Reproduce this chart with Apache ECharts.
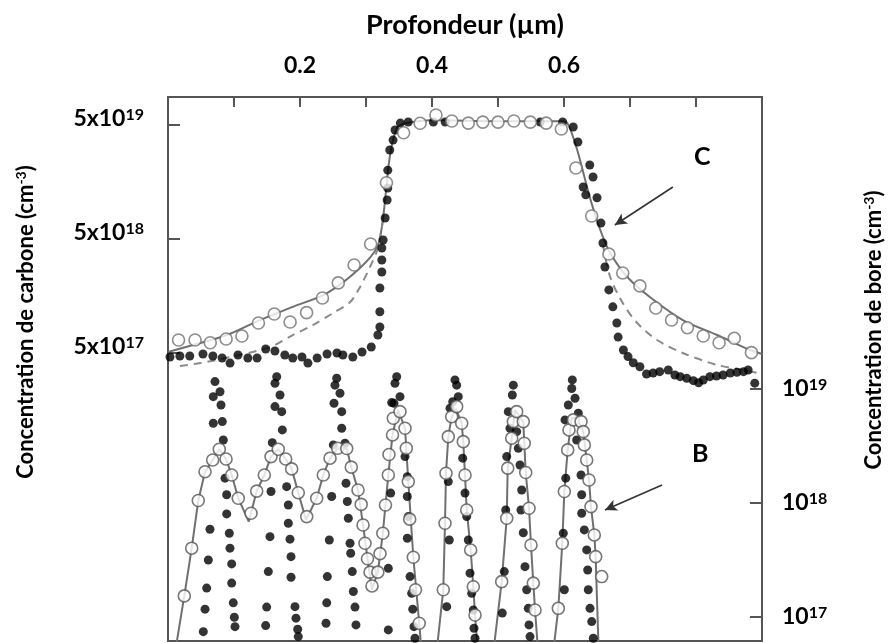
<!DOCTYPE html>
<html>
<head>
<meta charset="utf-8">
<script src="https://cdn.jsdelivr.net/npm/echarts@6/dist/echarts.min.js"></script>
<style>
html,body{margin:0;padding:0;background:#fff;}
#chart{width:893px;height:643px;}
</style>
</head>
<body>
<div id="chart"></div>
<script>
// ---------- DATA (depth in µm, concentration in cm^-3) ----------
const carbonOpen = [
  [0.016,6.5e17],[0.041,6.5e17],[0.064,6.15e17],[0.088,6.64e17],[0.112,7.05e17],[0.137,9.16e17],
  [0.161,1.10e18],[0.185,9.35e17],[0.210,1.13e18],[0.234,1.52e18],[0.258,2.06e18],[0.282,2.96e18],
  [0.307,4.52e18],[0.331,1.56e19],[0.357,4.28e19],[0.382,5.18e19],[0.406,6.12e19],[0.430,5.42e19],
  [0.455,5.2e19],[0.477,5.3e19],[0.500,5.3e19],[0.524,5.42e19],[0.549,5.3e19],[0.573,5.2e19],
  [0.596,4.61e19],[0.618,2.10e19],[0.642,7.96e18],[0.668,3.69e18],[0.689,2.52e18],[0.715,1.94e18],
  [0.739,1.24e18],[0.763,9.73e17],[0.787,8.34e17],[0.811,7.05e17],[0.835,6.15e17],[0.858,6.73e17],
  [0.884,5.04e17]
];
const carbonFit = [
  [0,5.11e17],[0.038,5.88e17],[0.089,7.19e17],[0.139,9.73e17],[0.189,1.27e18],[0.241,1.68e18],
  [0.291,2.79e18],[0.317,4.26e18],[0.326,7.8e18],[0.336,2.62e19],[0.347,4.71e19],[0.362,5.2e19],
  [0.397,5.5e19],[0.503,5.4e19],[0.594,5.4e19],[0.605,5.2e19],[0.620,3.02e19],[0.639,1.17e19],
  [0.655,6.0e18],[0.670,3.77e18],[0.696,2.32e18],[0.730,1.55e18],[0.780,9.73e17],[0.832,7.19e17],
  [0.882,5.31e17],[0.9,4.9e17]
];
const carbonDashedLeft = [
  [0.018,3.85e17],[0.049,4.08e17],[0.102,4.71e17],[0.155,5.65e17],[0.189,7.19e17],[0.220,8.81e17],
  [0.250,1.12e18],[0.276,1.40e18],[0.291,1.90e18],[0.306,2.84e18],[0.317,4.01e18],[0.326,7.35e18]
];
const carbonDashedRight = [
  [0.659,4.43e18],[0.670,2.32e18],[0.689,1.37e18],[0.711,9.16e17],[0.741,6.50e17],[0.780,5.0e17],
  [0.832,3.93e17],[0.871,3.55e17],[0.894,3.34e17]
];
const carbonDots = [
  [0.003,4.61e17],[0.018,4.71e17],[0.033,4.71e17],[0.053,4.90e17],[0.068,4.71e17],[0.082,4.52e17],
  [0.094,4.08e17],[0.106,4.80e17],[0.121,4.52e17],[0.135,4.52e17],[0.148,5.42e17],[0.162,5.21e17],
  [0.177,4.80e17],[0.189,4.52e17],[0.203,4.61e17],[0.212,4.08e17],[0.226,4.52e17],[0.241,4.90e17],
  [0.256,5.0e17],[0.265,4.80e17],[0.280,4.61e17],[0.294,5.11e17],[0.308,5.65e17],[0.318,7.19e17],
  [0.321,8.45e17],[0.321,1.15e18],[0.321,1.86e18],[0.324,2.57e18],[0.324,3.27e18],[0.324,4.17e18],
  [0.326,4.90e18],[0.329,7.64e18],[0.332,1.10e19],[0.333,1.40e19],[0.333,2.01e19],[0.336,3.02e19],
  [0.341,3.69e19],[0.344,4.52e19],[0.352,5.2e19],[0.364,5.31e19],[0.402,5.31e19],[0.420,5.31e19],
  [0.564,5.31e19],[0.598,5.31e19],[0.614,4.80e19],[0.621,3.55e19],[0.639,2.23e19],[0.644,1.75e19],
  [0.629,1.43e19],[0.633,1.22e19],[0.650,1.15e19],[0.656,6.90e18],[0.659,4.61e18],[0.662,2.84e18],
  [0.668,1.79e18],[0.674,1.27e18],[0.680,9.16e17],[0.682,6.90e17],[0.690,5.31e17],[0.697,4.65e17],
  [0.705,4.11e17],[0.715,3.79e17],[0.725,3.27e17],[0.735,3.34e17],[0.745,3.43e17],[0.758,3.55e17],
  [0.768,3.21e17],[0.776,3.10e17],[0.786,3.0e17],[0.796,2.86e17],[0.804,2.74e17],[0.811,2.90e17],
  [0.821,3.10e17],[0.831,3.14e17],[0.841,3.21e17],[0.852,3.34e17],[0.862,3.39e17],[0.872,3.43e17],
  [0.879,3.55e17],[0.889,2.72e17]
];
const boronOpen = [
  [0.0247,1.53e17],[0.0359,4.01e17],[0.0459,1.05e18],[0.0561,1.88e18],[0.0677,2.38e18],[0.0777,2.96e18],
  [0.0879,2.43e18],[0.0965,1.76e18],[0.1065,1.10e18],[0.1258,8.12e17],[0.1344,1.27e18],[0.1459,1.76e18],
  [0.1561,2.55e18],[0.1671,2.96e18],[0.1783,2.43e18],[0.1874,1.99e18],[0.1974,1.23e18],[0.2102,7.59e17],
  [0.2253,1.10e18],[0.2353,1.76e18],[0.2455,2.47e18],[0.2571,3.02e18],[0.2708,3.0e18],[0.2777,2.06e18],
  [0.2879,1.30e18],[0.2927,9.71e17],[0.2955,6.41e17],[0.2985,4.43e17],[0.3023,3.24e17],[0.3061,2.47e17],
  [0.3091,1.87e17],[0.3179,2.47e17],[0.3212,3.59e17],[0.3255,5.42e17],[0.3295,9.60e17],[0.3338,1.76e18],
  [0.3348,2.66e18],[0.3402,3.95e18],[0.3414,5.53e18],[0.3515,6.32e18],[0.3591,4.52e18],[0.3611,3.02e18],
  [0.3641,1.54e18],[0.3662,7.21e17],[0.3717,3.34e17],[0.3750,1.73e17],[0.3806,8.81e16],
  [0.4171,1.73e17],[0.4197,6.64e17],[0.4212,1.82e18],[0.4247,3.82e18],[0.4298,5.71e18],[0.4374,7.0e18],
  [0.4450,5.0e18],[0.4474,3.45e18],[0.4500,1.76e18],[0.4526,8.68e17],[0.4586,3.87e17],[0.4626,1.84e17],
  [0.4652,1.04e17],
  [0.5056,2.04e17],[0.5132,7.34e17],[0.5147,2.02e18],[0.5208,3.70e18],[0.5232,5.17e18],[0.5283,6.32e18],
  [0.5383,5.17e18],[0.5398,3.34e18],[0.5420,1.85e18],[0.5470,8.99e17],[0.5500,4.28e17],[0.5535,1.98e17],
  [0.5561,1.15e17],
  [0.5914,1.19e17],[0.5974,4.43e17],[0.6005,1.26e18],[0.6056,2.92e18],[0.6076,4.37e18],[0.6141,5.35e18],
  [0.6258,5.17e18],[0.6292,4.22e18],[0.6308,3.23e18],[0.6344,2.38e18],[0.6379,1.59e18],[0.6409,9.28e17],
  [0.6459,5.24e17],[0.6480,3.38e17],[0.6571,2.26e17]
];
const boronFit = [
  [0.011,5e16],[0.0247,1.53e17],[0.0359,4.01e17],[0.0459,1.05e18],[0.0561,1.88e18],[0.0677,2.38e18],
  [0.0777,2.96e18],[0.0879,2.43e18],[0.0965,1.76e18],[0.1065,1.10e18],[0.1224,6.86e17],[0.1344,1.27e18],
  [0.1459,1.76e18],[0.1561,2.55e18],[0.1671,2.96e18],[0.1783,2.43e18],[0.1874,1.99e18],[0.1974,1.23e18],
  [0.2091,7.1e17],[0.2253,1.10e18],[0.2353,1.76e18],[0.2455,2.47e18],[0.2571,3.02e18],[0.2708,3.0e18],
  [0.2777,2.06e18],[0.2879,1.30e18],[0.2955,6.41e17],[0.3023,3.24e17],[0.3091,1.73e17],[0.3179,2.47e17],
  [0.3255,5.42e17],[0.3338,1.76e18],[0.3402,3.95e18],[0.3485,6.55e18],[0.3591,4.52e18],[0.3641,1.54e18],
  [0.3717,3.34e17],[0.3806,8.81e16],[0.394,1e16],
  [0.4171,1.73e17],[0.4197,6.64e17],[0.4212,1.82e18],[0.4247,3.82e18],[0.4298,5.71e18],[0.4364,6.68e18],
  [0.4450,5.0e18],[0.4474,3.45e18],[0.4500,1.76e18],[0.4526,8.68e17],[0.4586,3.87e17],[0.4626,1.84e17],
  [0.4652,1.04e17],[0.4788,1e16],
  [0.5056,2.04e17],[0.5132,7.34e17],[0.5147,2.02e18],[0.5208,3.70e18],[0.5258,6.55e18],[0.5383,5.17e18],
  [0.5398,3.34e18],[0.5420,1.85e18],[0.5470,8.99e17],[0.5500,4.28e17],[0.5535,1.98e17],[0.5561,1.15e17],
  [0.5697,1e16],
  [0.5914,1.19e17],[0.5974,4.43e17],[0.6005,1.26e18],[0.6056,2.92e18],[0.6117,5.57e18],[0.6197,5.57e18],
  [0.6292,4.22e18],[0.6344,2.38e18],[0.6379,1.59e18],[0.6409,9.28e17],[0.6459,5.24e17],[0.6480,3.38e17],
  [0.650,1.41e17],[0.653,4.2e16]
];
const boronDots = [
  // spike 1
  [0.0535,7.43e16],[0.0561,1.17e17],[0.0586,1.79e17],[0.0611,3.16e17],[0.0636,5.88e17],[0.0686,5.0e18],
  [0.0686,8.56e18],[0.0712,1.16e19],[0.0788,9.46e18],[0.0803,7.24e18],[0.0823,5.17e18],[0.0838,3.57e18],
  [0.0864,1.65e18],[0.0889,1.18e18],[0.0889,8.01e17],[0.0929,5.42e17],[0.0939,4.01e17],[0.0965,2.92e17],
  [0.0965,1.98e17],[0.0989,1.33e17],[0.1005,9.93e16],[0.1015,8.22e16],
  // spike 2
  [0.1480,8.39e16],[0.1495,1.22e17],[0.1520,2.50e17],[0.1545,5.06e17],[0.1561,1.26e18],[0.1580,3.38e18],
  [0.1621,7.0e18],[0.1621,1.12e19],[0.1647,1.28e19],[0.1697,8.86e18],[0.1723,6.32e18],[0.1732,4.37e18],
  [0.1798,1.39e18],[0.1823,9.60e17],[0.1823,6.64e17],[0.1848,4.81e17],[0.1864,3.38e17],[0.1864,2.23e17],
  [0.1924,1.23e17],[0.1939,9.75e16],[0.1965,7.80e16],[0.1974,6.72e16],
  // spike 3
  [0.2394,8.81e16],[0.2405,1.33e17],[0.2414,2.26e17],[0.2444,4.73e17],[0.2480,1.14e18],[0.2505,3.23e18],
  [0.2515,7.50e18],[0.2530,1.08e19],[0.2556,1.24e19],[0.2606,9.17e18],[0.2632,6.32e18],[0.2632,4.52e18],
  [0.2682,3.34e18],[0.2697,1.49e18],[0.2717,1.03e18],[0.2732,7.34e17],[0.2758,4.43e17],[0.2768,3.62e17],
  [0.2792,2.50e17],[0.2808,1.67e17],[0.2833,1.22e17],[0.2848,8.51e16],
  // spike 4
  [0.3338,7.69e16],[0.3338,2.67e17],[0.3374,1.22e18],[0.3389,7.59e18],[0.3424,7.50e18],[0.3439,1.12e19],
  [0.3465,1.28e19],[0.3515,8.56e18],[0.3591,2.55e18],[0.3626,1.70e18],[0.3626,1.14e18],[0.3641,7.59e17],
  [0.3626,4.90e17],[0.3667,2.26e17],[0.3692,1.61e17],[0.3708,1.17e17],[0.3727,8.22e16],[0.3742,6.50e16],
  // spike 5
  [0.4223,1.23e17],[0.4262,4.73e17],[0.4247,1.54e18],[0.4273,6.78e18],[0.4314,7.74e18],[0.4348,1.20e19],
  [0.4374,1.08e19],[0.4398,8.56e18],[0.4465,2.47e18],[0.4500,1.22e18],[0.4526,7.59e17],[0.4550,4.73e17],
  [0.4576,2.42e17],[0.4601,1.61e17],[0.4626,1.15e17],[0.4636,7.96e16],[0.4652,6.50e16],
  // spike 6
  [0.5065,1.08e17],[0.5095,2.50e17],[0.5117,8.68e17],[0.5132,2.55e18],[0.5156,6.32e18],[0.5182,4.52e18],
  [0.5217,8.86e18],[0.5232,1.08e19],[0.5283,4.22e18],[0.5308,3.02e18],[0.5333,2.15e18],[0.5359,1.30e18],
  [0.5348,8.68e17],[0.5383,5.48e17],[0.5409,2.76e17],[0.5435,1.73e17],[0.5459,1.19e17],[0.5470,8.51e16],
  [0.5485,6.72e16],
  // spike 7
  [0.6005,1.73e17],[0.5989,5.42e17],[0.6026,1.65e18],[0.6015,5.35e18],[0.6065,7.24e18],[0.6117,1.01e19],
  [0.6126,1.20e19],[0.6167,8.28e18],[0.6217,6.12e18],[0.6192,3.57e18],[0.6258,1.76e18],[0.6268,1.18e18],
  [0.6268,8.12e17],[0.6308,5.80e17],[0.6344,3.87e17],[0.6359,2.58e17],[0.6368,1.73e17],[0.6394,1.19e17],
  [0.6420,9.10e16],[0.6444,6.50e16]
];
const depthLabels = [0.2, 0.4, 0.6];
const carbonTicks = [5e17, 5e18, 5e19];
const boronTicks = [1e17, 1e18, 1e19];
const arrowC = [[0.765,1.43e19],[0.677,6.64e18]];
const arrowB = [[0.7485,1.44e18],[0.662,8.68e17]];

// ---------- CHART ----------
const FONT = 'Lato';
const INK = '#000';
const FRAME = '#555';
const GREY = '#707070';

function supRich(base, sup) {
  return {
    b: {fontFamily: FONT, fontWeight: 'bold', fontSize: base, color: INK, lineHeight: base + 2},
    s: {fontFamily: FONT, fontWeight: 'bold', fontSize: sup, color: INK, verticalAlign: 'top', lineHeight: sup + 1}
  };
}
function expOf(v) { return Math.floor(Math.log10(v) + 1e-9); }

const chart = echarts.init(document.getElementById('chart'), null, {renderer: 'canvas'});
const option = {
  animation: false,
  backgroundColor: '#fff',
  grid: [
    {left: 168, right: 131, top: 97, bottom: 2, show: true, borderColor: FRAME, borderWidth: 2, backgroundColor: 'transparent'},
    {left: 168, right: 131, top: 97, bottom: 96},
    {left: 168, right: 131, top: 19, bottom: 2}
  ],
  xAxis: [
    {gridIndex: 0, type: 'value', position: 'top', min: 0, max: 0.9, interval: 0.1,
     axisLine: {show: false, onZero: false}, splitLine: {show: false},
     axisTick: {inside: true, length: 10, lineStyle: {color: FRAME, width: 2}},
     axisLabel: {margin: 20, fontFamily: FONT, fontWeight: 'bold', fontSize: 23, color: INK,
       formatter: v => depthLabels.some(t => Math.abs(t - v) < 1e-6) ? v.toFixed(1) : ''},
     name: 'Profondeur (µm)', nameLocation: 'middle', nameGap: 58,
     nameTextStyle: {fontFamily: FONT, fontWeight: 'bold', fontSize: 27, color: INK}},
    {gridIndex: 1, type: 'value', min: 0, max: 0.9, show: false, axisLine: {onZero: false}},
    {gridIndex: 2, type: 'value', min: 0, max: 0.9, show: false, axisLine: {onZero: false}}
  ],
  yAxis: [
    {gridIndex: 0, type: 'value', min: 0, max: 1, show: false, axisLine: {onZero: false}},
    {gridIndex: 1, type: 'log', logBase: 10, position: 'left', min: 9.94e15, max: 8.806e19,
     axisLine: {show: false, onZero: false}, splitLine: {show: false},
     axisTick: {inside: true, length: 12, customValues: carbonTicks, lineStyle: {color: FRAME, width: 2}},
     axisLabel: {customValues: carbonTicks, margin: 24, padding: [0, 0, 12, 0],
       formatter: v => { const e = expOf(v); const m = Math.round(v / Math.pow(10, e)); return '{b|' + m + 'x10}{s|' + e + '}'; },
       rich: supRich(23, 16)},
     name: '{b|Concentration de carbone (cm}{s|-3}{b|)}', nameLocation: 'middle', nameGap: 130,
     nameTextStyle: {rich: supRich(22, 14)}},
    {gridIndex: 2, type: 'log', logBase: 10, position: 'right', min: 6.15e16, max: 1.76e22,
     axisLine: {show: false, onZero: false}, splitLine: {show: false},
     axisTick: {inside: true, length: 12, customValues: boronTicks, lineStyle: {color: FRAME, width: 2}},
     axisLabel: {customValues: boronTicks, margin: 20,
       formatter: v => '{b|10}{s|' + expOf(v) + '}',
       rich: supRich(23, 16)},
     name: '{b|Concentration de bore (cm}{s|-3}{b|)}', nameLocation: 'middle', nameGap: 100,
     nameTextStyle: {rich: supRich(22, 14)}}
  ],
  series: [
    {type: 'line', name: 'C fit', xAxisIndex: 1, yAxisIndex: 1, data: carbonFit, showSymbol: false, smooth: 0.3,
     lineStyle: {color: GREY, width: 2}, z: 2,
     markLine: {silent: true, symbol: ['none', 'arrow'], symbolSize: [9, 12], animation: false,
       lineStyle: {color: '#333', width: 1.6, type: 'solid'}, label: {show: false},
       data: [[{coord: arrowC[0]}, {coord: arrowC[1]}]]}},
    {type: 'line', name: 'C dashed L', xAxisIndex: 1, yAxisIndex: 1, data: carbonDashedLeft, showSymbol: false, smooth: 0.3,
     lineStyle: {color: '#8a8a8a', width: 2, type: [8, 6]}, z: 2},
    {type: 'line', name: 'C dashed R', xAxisIndex: 1, yAxisIndex: 1, data: carbonDashedRight, showSymbol: false, smooth: 0.3,
     lineStyle: {color: '#8a8a8a', width: 2, type: [8, 6]}, z: 2},
    {type: 'line', name: 'B fit', xAxisIndex: 2, yAxisIndex: 2, data: boronFit, showSymbol: false,
     lineStyle: {color: GREY, width: 2}, z: 2,
     markLine: {silent: true, symbol: ['none', 'arrow'], symbolSize: [9, 12], animation: false,
       lineStyle: {color: '#333', width: 1.6, type: 'solid'}, label: {show: false},
       data: [[{coord: arrowB[0]}, {coord: arrowB[1]}]]}},
    {type: 'scatter', name: 'C dots', xAxisIndex: 1, yAxisIndex: 1, data: carbonDots, symbol: 'circle', symbolSize: 9,
     itemStyle: {color: '#000'}, z: 3},
    {type: 'scatter', name: 'B dots', xAxisIndex: 2, yAxisIndex: 2, data: boronDots, symbol: 'circle', symbolSize: 9,
     itemStyle: {color: '#000'}, z: 3},
    {type: 'scatter', name: 'C open', xAxisIndex: 1, yAxisIndex: 1, data: carbonOpen, symbol: 'circle', symbolSize: 12,
     itemStyle: {color: '#fff', borderColor: GREY, borderWidth: 1.6}, z: 4},
    {type: 'scatter', name: 'B open', xAxisIndex: 2, yAxisIndex: 2, data: boronOpen, symbol: 'circle', symbolSize: 12,
     itemStyle: {color: '#fff', borderColor: '#555', borderWidth: 1.6}, z: 4}
  ],
  graphic: [
    {type: 'text', left: 694, top: 144, style: {text: 'C', fontFamily: FONT, fontWeight: 'bold', fontSize: 25, fill: INK}},
    {type: 'text', left: 692, top: 441, style: {text: 'B', fontFamily: FONT, fontWeight: 'bold', fontSize: 25, fill: INK}}
  ]
};
chart.setOption(option);
</script>
</body>
</html>
